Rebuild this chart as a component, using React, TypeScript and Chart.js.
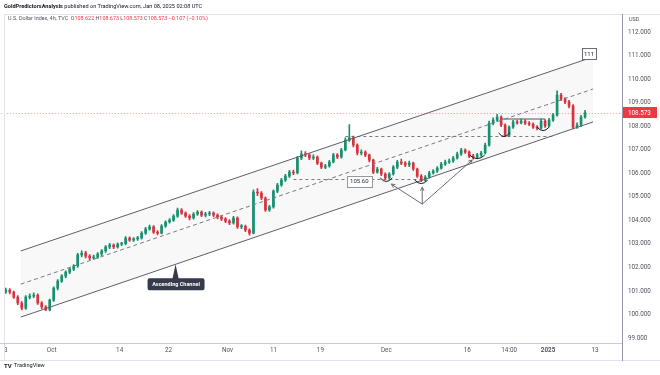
import React, { useEffect, useRef } from 'react';
import { Chart, registerables } from 'chart.js';

Chart.register(...registerables);

// ---- Data (4h DXY, sampled) ----
const firstOpen = 100.95;
const closes = [
  101.04, 100.95, 100.74, 100.49, 100.27, 100.74, 100.78, 100.83, 100.49, 100.32,
  100.19, 100.61, 101.12, 101.42, 101.63, 101.80, 101.93, 102.06, 102.53, 102.61,
  102.48, 102.40, 102.44, 102.57, 102.70, 102.87, 102.95, 102.87, 102.99, 103.01,
  103.25, 103.16, 103.21, 103.25, 103.46, 103.63, 103.72, 103.50, 103.46, 103.76,
  103.93, 104.01, 104.18, 104.44, 104.31, 104.18, 104.10, 104.27, 104.35, 104.22,
  104.27, 104.31, 104.22, 104.14, 104.06, 103.97, 103.89, 104.10, 103.72, 103.75,
  103.59, 103.46, 105.20, 105.16, 104.95, 104.44, 104.57, 105.24, 105.50, 105.71,
  105.88, 106.05, 106.01, 106.65, 106.82, 106.78, 106.65, 106.69, 106.43, 106.26,
  106.31, 106.48, 106.78, 106.69, 106.99, 107.41, 107.50, 107.20, 106.86, 106.90,
  106.78, 106.56, 106.05, 106.18, 105.97, 105.80, 105.97, 106.26, 106.48, 106.43,
  106.35, 106.43, 106.18, 105.88, 105.71, 105.84, 106.01, 106.09, 106.22, 106.39,
  106.48, 106.52, 106.65, 106.82, 106.99, 106.90, 106.73, 106.69, 106.78, 106.86,
  107.20, 108.13, 108.26, 108.39, 108.05, 107.62, 107.96, 108.18, 108.14, 108.22,
  108.13, 108.09, 107.96, 107.92, 108.22, 108.01, 108.26, 108.47, 109.32, 109.15,
  109.03, 108.86, 107.96, 108.05, 108.39, 108.57,
];
const highs = [
  101.12, 101.10, 101.00, 100.80, 100.55, 100.80, 100.88, 100.92, 100.88, 100.55,
  100.38, 100.66, 101.18, 101.48, 101.70, 101.86, 102.00, 102.12, 102.60, 102.70,
  102.68, 102.55, 102.52, 102.63, 102.76, 102.93, 103.02, 103.00, 103.05, 103.07,
  103.31, 103.30, 103.27, 103.32, 103.52, 103.70, 103.80, 103.78, 103.56, 103.82,
  103.98, 104.08, 104.24, 104.52, 104.50, 104.36, 104.24, 104.33, 104.42, 104.40,
  104.34, 104.38, 104.36, 104.28, 104.20, 104.12, 104.03, 104.17, 104.15, 103.82,
  103.80, 103.64, 105.30, 105.35, 105.22, 105.00, 104.64, 105.30, 105.57, 105.78,
  105.95, 106.12, 106.14, 106.72, 106.95, 106.92, 106.84, 106.78, 106.74, 106.48,
  106.38, 106.55, 106.85, 106.84, 107.06, 107.50, 108.07, 107.58, 107.25, 107.00,
  106.95, 106.82, 106.60, 106.25, 106.22, 106.02, 106.03, 106.33, 106.55, 106.60,
  106.50, 106.52, 106.48, 106.22, 105.94, 105.90, 106.08, 106.16, 106.28, 106.46,
  106.56, 106.60, 106.72, 106.90, 107.06, 107.04, 106.95, 106.80, 106.85, 106.93,
  107.28, 108.22, 108.35, 108.50, 108.44, 108.10, 108.02, 108.25, 108.26, 108.30,
  108.28, 108.20, 108.14, 108.03, 108.30, 108.28, 108.33, 108.55, 109.50, 109.40,
  109.22, 109.10, 108.92, 108.14, 108.46, 108.67,
];
const lows = [
  100.90, 100.88, 100.68, 100.42, 100.20, 100.22, 100.66, 100.72, 100.43, 100.25,
  100.16, 100.15, 100.56, 101.05, 101.36, 101.55, 101.74, 101.86, 102.00, 102.45,
  102.40, 102.33, 102.34, 102.38, 102.50, 102.64, 102.80, 102.80, 102.82, 102.92,
  102.96, 103.10, 103.10, 103.15, 103.20, 103.40, 103.58, 103.44, 103.38, 103.42,
  103.70, 103.88, 103.95, 104.12, 104.25, 104.12, 104.02, 104.05, 104.21, 104.16,
  104.15, 104.20, 104.16, 104.06, 103.99, 103.90, 103.82, 103.84, 103.66, 103.65,
  103.52, 103.37, 103.42, 105.05, 104.88, 104.38, 104.38, 104.52, 105.18, 105.44,
  105.65, 105.82, 105.94, 105.97, 106.58, 106.70, 106.58, 106.58, 106.36, 106.20,
  106.19, 106.26, 106.44, 106.62, 106.64, 106.95, 107.35, 107.12, 106.78, 106.78,
  106.70, 106.48, 105.98, 106.00, 105.90, 105.74, 105.74, 105.92, 106.20, 106.36,
  106.28, 106.28, 106.12, 105.82, 105.64, 105.65, 105.79, 105.96, 106.04, 106.17,
  106.33, 106.42, 106.46, 106.60, 106.76, 106.84, 106.66, 106.60, 106.63, 106.72,
  106.82, 107.15, 108.05, 108.20, 107.98, 107.55, 107.58, 107.90, 108.08, 108.10,
  108.06, 108.02, 107.90, 107.84, 107.88, 107.95, 107.97, 108.20, 108.42, 109.08,
  108.96, 108.78, 107.88, 107.90, 107.98, 108.34,
];

const timeTickIdx = [0, 11.5, 28.5, 40.75, 55.5, 67, 78.75, 95.25, 115.5, 126, 135.75, 147.5];
const timeTickLabels = ['3', 'Oct', '14', '22', 'Nov', '11', '19', 'Dec', '16', '14:00', '2025', '13'];
const priceTicks = [99, 100, 101, 102, 103, 104, 105, 106, 107, 108, 109, 110, 111, 112];
const lastPrice = 108.573;

// ---- Drawings (index, price) ----
const channelUpper = [[3.75, 102.70], [147, 110.94]];
const channelMid = [[3.75, 101.29], [147, 109.58]];
const channelLower = [[3.75, 99.89], [147, 108.18]];
const dashedLevels = [
  { from: 85, to: 137.5, price: 107.58 },
  { from: 72, to: 105, price: 105.75 },
];
const greyLevel = { from: 123.75, to: 135, price: 108.30 };
const arcs = [
  [95.25, 105.63, 12],
  [104, 105.54, 13],
  [118, 106.60, 15],
  [124.75, 107.54, 11],
  [134.5, 107.79, 12],
];
const arrowFrom = [104.25, 104.69];
const arrowTargets = [[96.5, 105.54], [104.25, 105.41], [116.75, 106.56]];
const calloutTip = [42.5, 102.14];
const levelTag = { idx: 88.5, price: 105.67, text: '105.60' };
const channelTag = { idx: 146, price: 111.07, text: '111' };

const UP = '#17906f';
const DOWN = '#d9323f';
const TAG_RED = '#f23645';
const FONT = 'Roboto, "Noto Sans", sans-serif';

const opens = closes.map((_, i) => (i === 0 ? firstOpen : closes[i - 1]));
const candleColors = closes.map((c, i) => (c >= opens[i] ? UP : DOWN));

const overlay = {
  id: 'overlay',
  beforeDraw(chart: any) {
    const { ctx, width, height } = chart;
    ctx.save();
    ctx.fillStyle = '#ffffff';
    ctx.fillRect(0, 0, width, height);
    ctx.restore();
  },
  beforeDatasetsDraw(chart: any) {
    const { ctx, chartArea } = chart;
    const X = (v: number) => chart.scales.x.getPixelForValue(v);
    const Y = (v: number) => chart.scales.y.getPixelForValue(v);
    ctx.save();
    ctx.beginPath();
    ctx.rect(chartArea.left, chartArea.top, chartArea.right - chartArea.left, chartArea.bottom - chartArea.top);
    ctx.clip();
    // channel fill
    ctx.beginPath();
    ctx.moveTo(X(channelUpper[0][0]), Y(channelUpper[0][1]));
    ctx.lineTo(X(channelUpper[1][0]), Y(channelUpper[1][1]));
    ctx.lineTo(X(channelLower[1][0]), Y(channelLower[1][1]));
    ctx.lineTo(X(channelLower[0][0]), Y(channelLower[0][1]));
    ctx.closePath();
    ctx.fillStyle = 'rgba(128,128,128,0.06)';
    ctx.fill();
    // dashed horizontal levels
    ctx.strokeStyle = '#787b86';
    ctx.lineWidth = 1;
    ctx.setLineDash([3, 3]);
    dashedLevels.forEach((l) => {
      const y = Math.round(Y(l.price)) + 0.5;
      ctx.beginPath();
      ctx.moveTo(X(l.from), y);
      ctx.lineTo(X(l.to), y);
      ctx.stroke();
    });
    ctx.setLineDash([]);
    // grey consolidation level
    ctx.strokeStyle = '#a3a6af';
    ctx.lineWidth = 2;
    ctx.beginPath();
    ctx.moveTo(X(greyLevel.from), Y(greyLevel.price));
    ctx.lineTo(X(greyLevel.to), Y(greyLevel.price));
    ctx.stroke();
    // current price dotted line
    ctx.strokeStyle = 'rgba(242,54,69,0.55)';
    ctx.lineWidth = 1;
    ctx.setLineDash([1, 2]);
    const py = Math.round(Y(lastPrice)) + 0.5;
    ctx.beginPath();
    ctx.moveTo(chartArea.left, py);
    ctx.lineTo(chartArea.right, py);
    ctx.stroke();
    ctx.restore();
  },
  afterDatasetsDraw(chart: any) {
    const { ctx, chartArea } = chart;
    const X = (v: number) => chart.scales.x.getPixelForValue(v);
    const Y = (v: number) => chart.scales.y.getPixelForValue(v);
    ctx.save();
    ctx.beginPath();
    ctx.rect(chartArea.left, chartArea.top, chartArea.right - chartArea.left, chartArea.bottom - chartArea.top);
    ctx.clip();
    // channel lines
    ctx.strokeStyle = '#5d606b';
    ctx.lineWidth = 1;
    [channelUpper, channelLower].forEach((ln) => {
      ctx.beginPath();
      ctx.moveTo(X(ln[0][0]), Y(ln[0][1]));
      ctx.lineTo(X(ln[1][0]), Y(ln[1][1]));
      ctx.stroke();
    });
    ctx.setLineDash([4, 3]);
    ctx.strokeStyle = '#787b86';
    ctx.beginPath();
    ctx.moveTo(X(channelMid[0][0]), Y(channelMid[0][1]));
    ctx.lineTo(X(channelMid[1][0]), Y(channelMid[1][1]));
    ctx.stroke();
    ctx.setLineDash([]);
    // arcs
    ctx.strokeStyle = '#131722';
    ctx.lineWidth = 1;
    arcs.forEach(([i, p, w]) => {
      const cx = X(i);
      const cy = Y(p);
      ctx.beginPath();
      ctx.moveTo(cx - w / 2, cy - 4);
      ctx.quadraticCurveTo(cx, cy + 3, cx + w / 2, cy - 4);
      ctx.stroke();
    });
    // arrows
    ctx.strokeStyle = '#6a6d78';
    const ax = X(arrowFrom[0]);
    const ay = Y(arrowFrom[1]);
    arrowTargets.forEach(([i, p]) => {
      const tx = X(i);
      const ty = Y(p);
      ctx.beginPath();
      ctx.moveTo(ax, ay);
      ctx.lineTo(tx, ty);
      ctx.stroke();
      const ang = Math.atan2(ty - ay, tx - ax);
      const L = 4;
      ctx.beginPath();
      ctx.moveTo(tx - L * Math.cos(ang - 0.45), ty - L * Math.sin(ang - 0.45));
      ctx.lineTo(tx, ty);
      ctx.lineTo(tx - L * Math.cos(ang + 0.45), ty - L * Math.sin(ang + 0.45));
      ctx.stroke();
    });
    // level tag 105.60
    ctx.font = `6px ${FONT}`;
    ctx.textAlign = 'center';
    ctx.textBaseline = 'middle';
    {
      const cx = X(levelTag.idx);
      const cy = Y(levelTag.price);
      ctx.fillStyle = '#ffffff';
      ctx.fillRect(cx - 12.5, cy - 5.5, 25, 11);
      ctx.strokeStyle = '#9598a1';
      ctx.strokeRect(Math.round(cx - 12.5) + 0.5, Math.round(cy - 5.5) + 0.5, 25, 11);
      ctx.fillStyle = '#2a2e39';
      ctx.fillText(levelTag.text, cx, cy + 0.5);
    }
    {
      const cx = X(channelTag.idx);
      const cy = Y(channelTag.price);
      ctx.fillStyle = '#ffffff';
      ctx.fillRect(cx - 7, cy - 5.5, 14, 11);
      ctx.strokeStyle = '#6a6d78';
      ctx.strokeRect(Math.round(cx - 7) + 0.5, Math.round(cy - 5.5) + 0.5, 14, 11);
      ctx.fillStyle = '#2a2e39';
      ctx.fillText(channelTag.text, cx, cy + 0.5);
    }
    // callout
    {
      const tx = X(calloutTip[0]);
      const ty = Y(calloutTip[1]);
      const bx = tx - 28;
      const by = ty + 14;
      const bw = 57;
      const bh = 12;
      ctx.fillStyle = '#363a4a';
      ctx.beginPath();
      ctx.moveTo(bx + 2, by);
      ctx.lineTo(tx - 3, by);
      ctx.lineTo(tx, ty);
      ctx.lineTo(tx + 3, by);
      ctx.lineTo(bx + bw - 2, by);
      ctx.quadraticCurveTo(bx + bw, by, bx + bw, by + 2);
      ctx.lineTo(bx + bw, by + bh - 2);
      ctx.quadraticCurveTo(bx + bw, by + bh, bx + bw - 2, by + bh);
      ctx.lineTo(bx + 2, by + bh);
      ctx.quadraticCurveTo(bx, by + bh, bx, by + bh - 2);
      ctx.lineTo(bx, by + 2);
      ctx.quadraticCurveTo(bx, by, bx + 2, by);
      ctx.closePath();
      ctx.fill();
      ctx.fillStyle = '#ffffff';
      ctx.font = `bold 5.5px ${FONT}`;
      ctx.fillText('Ascending Channel', bx + bw / 2, by + bh / 2 + 0.5);
    }
    ctx.restore();
  },
  afterDraw(chart: any) {
    const { ctx, chartArea, width } = chart;
    const Y = (v: number) => chart.scales.y.getPixelForValue(v);
    ctx.save();
    // frame lines
    ctx.strokeStyle = '#e0e3eb';
    ctx.lineWidth = 1;
    ctx.beginPath();
    ctx.moveTo(4, 14.5);
    ctx.lineTo(width, 14.5);
    ctx.moveTo(4.5, 14);
    ctx.lineTo(4.5, 360);
    ctx.moveTo(0, 360.5);
    ctx.lineTo(width, 360.5);
    ctx.stroke();
    ctx.strokeStyle = '#c9ccd3';
    ctx.beginPath();
    ctx.moveTo(0, Math.round(chartArea.bottom) + 0.5);
    ctx.lineTo(chartArea.right, Math.round(chartArea.bottom) + 0.5);
    ctx.stroke();
    ctx.strokeStyle = '#9598a1';
    ctx.beginPath();
    ctx.moveTo(Math.round(chartArea.right) + 0.5, 14);
    ctx.lineTo(Math.round(chartArea.right) + 0.5, 361);
    ctx.stroke();

    // header
    ctx.textBaseline = 'middle';
    ctx.textAlign = 'left';
    ctx.font = `bold 5.6px ${FONT}`;
    ctx.fillStyle = '#131722';
    const n1 = 'GoldPredictorsAnalysis';
    ctx.fillText(n1, 4, 7);
    let x = 4 + ctx.measureText(n1).width;
    ctx.font = `5.6px ${FONT}`;
    ctx.fillText(' published on TradingView.com, Jan 08, 2025 02:08 UTC', x, 7);

    ctx.font = `5.4px ${FONT}`;
    const segs: [string, string][] = [
      ['U.S. Dollar Index, 4h, TVC  ', '#50535e'],
      ['O', '#50535e'], ['108.622 ', TAG_RED],
      ['H', '#50535e'], ['108.673 ', TAG_RED],
      ['L', '#50535e'], ['108.573 ', TAG_RED],
      ['C', '#50535e'], ['108.573 ', TAG_RED],
      ['\u22120.107 (\u22120.10%)', TAG_RED],
    ];
    x = 8;
    segs.forEach(([t, c]) => {
      ctx.fillStyle = c;
      ctx.fillText(t, x, 19);
      x += ctx.measureText(t).width;
    });

    // USD
    ctx.font = `5.5px ${FONT}`;
    ctx.fillStyle = '#50535e';
    ctx.fillText('USD', 629, 20);

    // last price tag
    const ly = Y(lastPrice);
    ctx.fillStyle = TAG_RED;
    ctx.fillRect(chartArea.right + 1, Math.round(ly - 5.5), 34, 11);
    ctx.fillStyle = '#ffffff';
    ctx.font = `6.3px ${FONT}`;
    ctx.fillText(lastPrice.toFixed(3), chartArea.right + 6, ly + 0.5);

    // TradingView logo
    ctx.fillStyle = '#131722';
    ctx.font = `bold 6px ${FONT}`;
    ctx.fillText('TV', 4, 366);
    ctx.font = `5.6px ${FONT}`;
    ctx.fillText('TradingView', 14, 366);
    ctx.restore();
  },
};

export default function App() {
  const ref = useRef<HTMLCanvasElement | null>(null);
  useEffect(() => {
    if (!ref.current) return;
    const wickData = closes.map((_, i) => ({ x: i, y: [lows[i], highs[i]] }));
    const bodyData = closes.map((c, i) => ({ x: i, y: [Math.min(opens[i], c), Math.max(opens[i], c)] }));
    const chart = new Chart(ref.current, {
      type: 'bar',
      data: {
        datasets: [
          {
            data: wickData as any,
            backgroundColor: candleColors,
            borderWidth: 0,
            barThickness: 1,
            grouped: false,
            order: 2,
          } as any,
          {
            data: bodyData as any,
            backgroundColor: candleColors,
            borderWidth: 0,
            barThickness: 2,
            minBarLength: 1,
            grouped: false,
            order: 1,
          } as any,
        ],
      },
      options: {
        animation: false,
        responsive: false,
        maintainAspectRatio: false,
        layout: { padding: { left: 0, right: 0, top: 14, bottom: 15 } },
        plugins: { legend: { display: false }, tooltip: { enabled: false } },
        scales: {
          x: {
            type: 'linear',
            min: -1.25,
            max: 154.25,
            offset: false,
            grid: { display: false, drawTicks: false },
            border: { display: false },
            afterBuildTicks: (s: any) => {
              s.ticks = timeTickIdx.map((v) => ({ value: v }));
            },
            afterFit: (s: any) => {
              s.height = 17;
            },
            ticks: {
              autoSkip: false,
              maxRotation: 0,
              minRotation: 0,
              padding: 4,
              color: '#50535e',
              font: (c: any) => ({ size: 6.3, family: FONT, weight: c.index === 10 ? 'bold' : 'normal' }),
              callback: (_v: any, i: number) => timeTickLabels[i],
            },
          } as any,
          y: {
            position: 'right',
            min: 98.79,
            max: 112.765,
            grid: { display: false, drawTicks: false },
            border: { display: false },
            afterBuildTicks: (s: any) => {
              s.ticks = priceTicks.map((v) => ({ value: v }));
            },
            afterFit: (s: any) => {
              s.width = 38;
            },
            ticks: {
              padding: 6,
              color: '#50535e',
              font: { size: 6.3, family: FONT },
              callback: (v: any) => Number(v).toFixed(3),
            },
          } as any,
        },
      },
      plugins: [overlay],
    });
    return () => chart.destroy();
  }, []);
  return (
    <div style={{ position: 'fixed', left: 0, top: 0, width: 660, height: 375, background: '#fff' }}>
      <canvas ref={ref} width={660} height={375} style={{ width: 660, height: 375, display: 'block' }} />
    </div>
  );
}
